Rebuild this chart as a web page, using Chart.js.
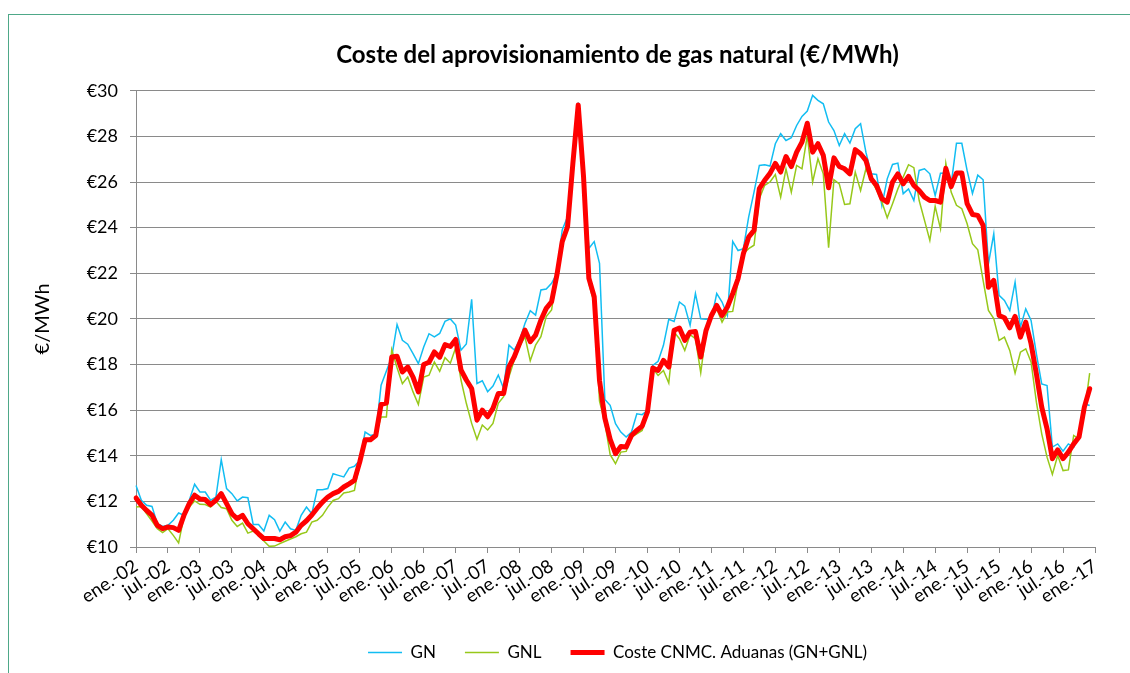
<!DOCTYPE html>
<html>
<head>
<meta charset="utf-8">
<script src="https://cdn.jsdelivr.net/npm/chart.js@4"></script>
<style>
  body { margin: 0; background: #fff; overflow: hidden; }
  #frame { position: absolute; left: 8px; top: 14px; width: 1300px; height: 720px; border: 1px solid #4ea888; }
  #chart { position: absolute; left: 0; top: 0; }
</style>
</head>
<body>
<div id="frame"></div>
<canvas id="chart" width="1235" height="673"></canvas>
<script>
const monthAbbr = ["ene.", "feb.", "mar.", "abr.", "may.", "jun.", "jul.", "ago.", "sep.", "oct.", "nov.", "dic."];
const years = ["02", "03", "04", "05", "06", "07", "08", "09", "10", "11", "12", "13", "14", "15", "16"];

// monthly series, ene.-02 .. dic.-16 (one row per year)
const gn = [
  12.70, 12.05, 11.83, 11.78, 11.02, 10.90, 10.95, 11.17, 11.49, 11.39, 12.05, 12.75,
  12.41, 12.41, 12.05, 12.19, 13.83, 12.56, 12.34, 12.02, 12.19, 12.16, 10.99, 10.99,
  10.70, 11.39, 11.20, 10.70, 11.09, 10.80, 10.73, 11.39, 11.75, 11.46, 12.51, 12.51,
  12.56, 13.21, 13.14, 13.07, 13.46, 13.54, 13.80, 15.04, 14.89, 14.94, 17.09, 17.72,
  18.33, 19.75, 19.06, 18.89, 18.48, 18.04, 18.77, 19.35, 19.21, 19.36, 19.89, 20.00,
  19.73, 18.63, 18.90, 20.86, 17.17, 17.29, 16.81, 17.06, 17.54, 16.95, 18.85, 18.63,
  19.07, 19.80, 20.36, 20.17, 21.27, 21.31, 21.56, 22.00, 23.90, 24.48, 27.11, 29.48,
  26.50, 23.09, 23.39, 22.44, 16.47, 16.21, 15.41, 15.04, 14.82, 15.04, 15.84, 15.80,
  15.99, 17.96, 18.14, 18.84, 19.98, 19.89, 20.74, 20.56, 19.72, 21.11, 20.00, 19.98,
  20.00, 21.11, 20.74, 20.15, 23.40, 23.00, 23.08, 24.47, 25.56, 26.73, 26.76, 26.70,
  27.68, 28.12, 27.82, 27.94, 28.48, 28.88, 29.11, 29.80, 29.58, 29.43, 28.63, 28.26,
  27.60, 28.12, 27.71, 28.34, 28.56, 27.31, 26.36, 26.33, 24.97, 26.14, 26.77, 26.83,
  25.49, 25.70, 25.19, 26.51, 26.58, 26.36, 25.41, 26.39, 26.40, 25.90, 27.70, 27.70,
  26.50, 25.50, 26.30, 26.10, 22.42, 23.73, 21.03, 20.81, 20.37, 21.61, 19.64, 20.44,
  19.93, 18.47, 17.15, 17.08, 14.38, 14.52, 14.20, 14.52, 14.38, 14.89, 16.28, 16.20
];
const gnl = [
  11.75, 11.78, 11.46, 11.14, 10.80, 10.63, 10.80, 10.51, 10.18, 11.32, 11.75, 12.02,
  11.87, 11.86, 11.75, 12.00, 11.73, 11.68, 11.17, 10.90, 11.05, 10.61, 10.70, 10.51,
  10.26, 10.03, 10.04, 10.15, 10.25, 10.35, 10.45, 10.58, 10.65, 11.09, 11.17, 11.39,
  11.75, 12.04, 12.12, 12.37, 12.41, 12.48, 13.73, 14.60, 14.68, 14.89, 15.70, 15.70,
  18.65, 17.86, 17.16, 17.45, 16.80, 16.25, 17.45, 17.53, 18.11, 17.70, 18.30, 18.06,
  18.74, 17.32, 16.30, 15.42, 14.72, 15.35, 15.13, 15.42, 16.30, 16.59, 17.46, 18.20,
  18.78, 19.22, 18.17, 18.85, 19.22, 20.10, 20.39, 21.85, 23.31, 23.90, 26.68, 29.16,
  25.94, 21.56, 20.68, 16.40, 15.45, 14.05, 13.65, 14.16, 14.19, 14.82, 14.96, 15.11,
  15.84, 17.82, 17.52, 17.74, 17.19, 19.42, 19.13, 18.62, 19.31, 19.13, 17.64, 19.42,
  20.01, 20.45, 19.86, 20.30, 20.33, 21.62, 22.86, 23.08, 23.23, 25.27, 25.86, 26.00,
  26.33, 25.34, 26.58, 25.56, 26.73, 26.58, 28.04, 26.00, 27.02, 26.36, 23.12, 26.10,
  25.92, 25.02, 25.05, 26.44, 25.63, 26.58, 26.07, 25.66, 25.12, 24.43, 25.05, 25.70,
  26.22, 26.76, 26.63, 25.19, 24.32, 23.44, 24.93, 23.95, 26.83, 25.56, 24.98, 24.83,
  24.17, 23.30, 23.03, 21.69, 20.37, 20.01, 19.06, 19.20, 18.62, 17.62, 18.54, 18.69,
  18.11, 16.35, 14.96, 13.94, 13.18, 14.01, 13.35, 13.38, 14.89, 14.74, 15.84, 17.62
];
const coste = [
  12.15, 11.83, 11.60, 11.40, 10.95, 10.80, 10.88, 10.85, 10.73, 11.39, 11.90, 12.27,
  12.10, 12.08, 11.86, 12.05, 12.34, 11.90, 11.46, 11.24, 11.39, 11.02, 10.80, 10.58,
  10.37, 10.37, 10.37, 10.32, 10.45, 10.50, 10.65, 10.95, 11.15, 11.40, 11.70, 11.97,
  12.19, 12.34, 12.44, 12.63, 12.77, 12.92, 13.73, 14.70, 14.70, 14.89, 16.25, 16.31,
  18.33, 18.36, 17.67, 17.89, 17.45, 16.80, 18.00, 18.10, 18.55, 18.32, 18.87, 18.79,
  19.10, 17.76, 17.32, 16.95, 15.56, 16.00, 15.71, 16.08, 16.73, 16.73, 17.90, 18.34,
  18.93, 19.51, 19.00, 19.29, 19.95, 20.46, 20.75, 21.92, 23.39, 24.04, 26.82, 29.38,
  26.24, 21.78, 20.97, 17.30, 15.65, 14.72, 14.09, 14.41, 14.38, 14.89, 15.11, 15.30,
  15.92, 17.85, 17.74, 18.18, 17.89, 19.50, 19.60, 19.06, 19.42, 19.45, 18.33, 19.50,
  20.15, 20.59, 20.15, 20.52, 21.11, 21.76, 22.86, 23.59, 23.88, 25.71, 26.08, 26.38,
  26.82, 26.44, 27.12, 26.68, 27.31, 27.75, 28.58, 27.31, 27.68, 27.17, 25.75, 27.06,
  26.68, 26.58, 26.36, 27.42, 27.24, 26.95, 26.14, 25.85, 25.27, 25.12, 26.00, 26.36,
  25.92, 26.25, 25.85, 25.63, 25.34, 25.19, 25.19, 25.12, 26.60, 25.80, 26.40, 26.40,
  25.05, 24.58, 24.54, 24.10, 21.39, 21.69, 20.15, 20.05, 19.61, 20.11, 19.20, 19.86,
  18.91, 17.59, 16.13, 15.18, 13.87, 14.26, 13.87, 14.16, 14.52, 14.82, 16.13, 16.94
];

// category labels: every month, axis runs to ene.-17
const months = [];
years.forEach(y => monthAbbr.forEach(m => months.push(m + "-" + y)));
months.push("ene.-17");

Chart.defaults.font.family = "Lato, 'Open Sans', sans-serif";
Chart.defaults.color = "#000";

const gridColor = "#8a8a8a";

new Chart(document.getElementById("chart"), {
  type: "line",
  data: {
    labels: months,
    datasets: [
      { label: "GN", data: gn, borderColor: "#12bdf2", borderWidth: 1.5, order: 2 },
      { label: "GNL", data: gnl, borderColor: "#97c81a", borderWidth: 1.5, order: 1 },
      {
        label: "Coste CNMC. Aduanas (GN+GNL)", data: coste, borderColor: "#ff0000",
        borderWidth: 5, borderCapStyle: "round", borderJoinStyle: "round", order: 0
      }
    ]
  },
  options: {
    responsive: false,
    animation: false,
    devicePixelRatio: 1,
    elements: { point: { radius: 0 }, line: { tension: 0 } },
    layout: { padding: { top: 0, left: 0, right: 0, bottom: 2 } },
    plugins: {
      tooltip: { enabled: false },
      title: {
        display: true,
        text: "Coste del aprovisionamiento de gas natural (€/MWh)",
        font: { size: 24, weight: "bold" },
        color: "#000",
        padding: { top: 41, bottom: 21 }
      },
      legend: {
        position: "bottom",
        labels: {
          usePointStyle: true,
          pointStyle: "line",
          pointStyleWidth: 34,
          padding: 29,
          font: { size: 17 },
          color: "#000",
          sort: (a, b) => a.datasetIndex - b.datasetIndex
        }
      }
    },
    scales: {
      x: {
        grid: { drawOnChartArea: false, tickLength: 6, color: gridColor },
        border: { color: gridColor },
        ticks: {
          autoSkip: false,
          minRotation: 33,
          maxRotation: 33,
          padding: 2,
          font: { size: 18.5 },
          callback: (v, i) => (i % 6 === 0 ? months[i] : null)
        },
        afterFit: s => { s.height = 68; }
      },
      y: {
        min: 10,
        max: 30,
        ticks: { stepSize: 2, padding: 12, font: { size: 18 }, callback: v => "€" + v },
        grid: { color: gridColor, tickLength: 6 },
        border: { color: gridColor },
        title: { display: true, text: "€/MWh", font: { size: 20 }, padding: { top: 31, bottom: 0 } },
        afterFit: s => { s.width = 136; }
      },
      // empty box on the right so title and legend centre like the original
      yPad: {
        position: "right",
        grid: { display: false },
        border: { display: false },
        ticks: { display: false },
        afterFit: s => { s.width = 140; }
      }
    }
  }
});
</script>
</body>
</html>
